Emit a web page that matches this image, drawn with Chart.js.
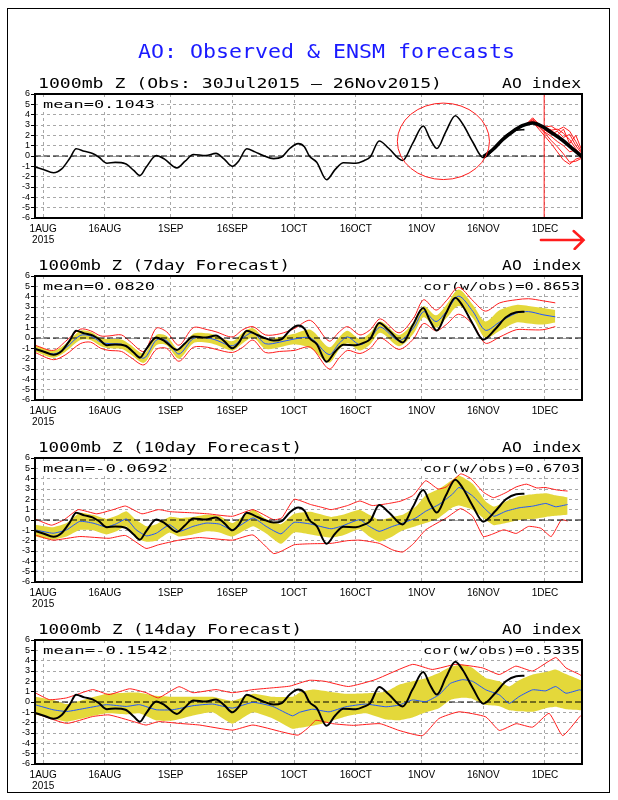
<!DOCTYPE html>
<html><head><meta charset="utf-8">
<script src="https://cdn.jsdelivr.net/npm/chart.js@4/dist/chart.umd.min.js"></script>
<style>
html,body{margin:0;padding:0;background:#fff;width:618px;height:800px;overflow:hidden;}
#frame{position:absolute;left:7px;top:8px;width:603px;height:785px;border:1px solid #000;box-sizing:border-box;}
canvas{position:absolute;left:0;}
</style></head><body>
<div id="frame"></div>
<canvas id="c1" style="top:0px" width="618" height="250"></canvas>
<canvas id="c2" style="top:250px" width="618" height="182"></canvas>
<canvas id="c3" style="top:432px" width="618" height="182"></canvas>
<canvas id="c4" style="top:614px" width="618" height="182"></canvas>
<script>
// ---------- tick labels ----------
const tickDays = [0, 15, 31, 46, 61, 76, 92, 107, 122];
const tickLabels = [['1AUG', '2015'], '16AUG', '1SEP', '16SEP', '1OCT', '16OCT', '1NOV', '16NOV', '1DEC'];
const yTicks = [-6, -5, -4, -3, -2, -1, 0, 1, 2, 3, 4, 5, 6];

// ---------- texts ----------
const pageTitle = 'AO: Observed & ENSM forecasts';
const panelTitles = ['1000mb Z (Obs: 30Jul2015 – 26Nov2015)', '1000mb Z (7day Forecast)', '1000mb Z (10day Forecast)', '1000mb Z (14day Forecast)'];
const meanTexts = ['mean=0.1043', 'mean=0.0820', 'mean=-0.0692', 'mean=-0.1542'];
const corTexts = [null, 'cor(w/obs)=0.8653', 'cor(w/obs)=0.6703', 'cor(w/obs)=0.5335'];

// ---------- observed AO (days since 1 Aug 2015) ----------
const obsDays = [-2,0,2.5,4.5,6.5,8,10,12,13.5,15.5,17.5,20,22,23.5,25,27.5,29.5,32.5,34.5,36.5,39.5,42,44,46,47.5,49.5,51.5,53.5,56,58,60,62,63.5,64.7,66.5,68.9,71,73,76,78,79.5,81.7,84,87.4,89.8,92.4,94,95.7,97.9,100.2,102,104.4,107,110,112.5,115,117];
const obsVals = [-1.05,-1.3,-1.62,-1.25,-0.2,0.7,0.45,0.25,-0.1,-0.7,-0.62,-0.75,-1.4,-1.9,-1.1,0.05,-0.3,-1.15,-0.5,0.15,0.05,0.25,-0.3,-1.0,-0.5,0.7,0.4,0.05,-0.25,-0.1,0.75,1.2,0.9,0.0,-0.6,-2.3,-1.3,-0.65,-0.7,-0.45,-0.1,1.45,0.75,-0.43,1.2,2.9,1.7,0.72,2.36,3.9,3.1,1.38,-0.16,0.9,2.0,2.5,2.55];

// ---------- panel 1: ensemble forecast (thick) and members ----------
const fcstDays = [107,109.2,111.6,114.1,116.5,119,121.4,123.8,126.2,128.6,131];
const fcstVals = [-0.1,0.58,1.55,2.35,2.93,3.2,2.84,2.2,1.55,0.74,-0.06];
const memberDays = [117.5,119,120.5,122,123.5,125,126.5,128,129.5,131];
const member1 = [3.05,3.3,3.0,2.7,2.3,1.9,1.5,0.9,0.3,-0.1];
const member2 = [3.1,3.5,3.0,2.6,2.5,2.6,2.2,1.6,0.7,0.0];
const member3 = [3.0,3.2,2.8,2.2,1.5,0.9,0.2,-0.6,-0.5,-0.2];
const member4 = [3.1,3.7,3.1,2.8,2.9,2.5,2.8,2.4,1.4,0.3];
const member5 = [3.0,3.3,2.6,1.9,1.2,0.4,-0.4,-0.8,-0.3,-0.1];
const member6 = [3.1,3.4,3.1,2.5,2.1,2.4,1.8,2.1,1.0,0.2];
const member7 = [3.0,3.6,2.9,2.3,1.9,1.4,1.0,0.4,0.6,0.0];
const member8 = [3.05,3.3,2.9,2.8,2.5,2.0,2.6,1.2,2.0,0.5];
const todayDay = 121.8;

// ---------- panel 2: 7-day forecast ----------
const p2Days = [-2,2.5,5.5,9,11.5,14,16,19,21,24.5,27.5,30,33,36.5,40,42,46,48.5,51,54,57.5,61,65,69.5,72,74,77,79.5,82,86.5,90,92.5,95.5,98,101,104.5,107.5,111,115,118,121.5,124.5];
const p2Mean = [-1.0,-1.55,-0.95,0.25,0.2,-0.4,-0.55,-0.6,-1.05,-1.95,-0.2,-0.25,-1.55,-0.05,0.0,-0.2,-0.75,0.0,0.5,-0.55,-0.4,-0.1,0.0,-1.6,-0.5,0.1,-0.65,-0.05,1.05,-0.25,0.95,2.55,1.6,2.55,4.05,2.55,0.75,1.55,2.4,2.55,2.25,2.05];
const p2YelHi = [-0.7,-1.2,-0.55,0.7,0.6,0.0,-0.1,-0.15,-0.6,-1.5,0.3,0.2,-1.1,0.4,0.45,0.25,-0.3,0.5,0.95,-0.05,0.1,0.4,0.8,-0.9,0.1,0.7,-0.1,0.5,1.6,0.3,1.5,3.1,2.2,3.2,4.7,3.2,1.6,2.7,3.2,3.1,2.9,2.7];
const p2YelLo = [-1.3,-1.9,-1.3,-0.2,-0.2,-0.8,-1.0,-1.05,-1.5,-2.4,-0.7,-0.7,-2.0,-0.5,-0.45,-0.65,-1.2,-0.5,0.05,-1.05,-0.9,-0.6,-1.0,-2.4,-1.1,-0.5,-1.2,-0.6,0.5,-0.8,0.4,2.0,1.0,1.9,3.1,1.9,0.0,0.7,1.5,1.4,1.3,1.5];
const p2RedHi = [-0.7,-1.2,-0.3,0.85,0.7,0.2,0.2,0.3,-0.3,-1.3,0.95,0.6,-0.7,1.0,0.8,0.6,0.1,0.8,1.1,0.3,0.4,0.9,1.7,-0.3,0.6,1.1,0.3,0.8,1.85,0.5,1.9,3.7,2.7,3.6,4.9,3.6,2.6,3.4,3.7,3.8,3.6,3.4];
const p2RedLo = [-1.4,-2.1,-1.6,-0.55,-0.4,-1.0,-1.2,-1.3,-1.8,-2.6,-1.1,-1.0,-2.25,-0.9,-0.9,-1.1,-1.4,-0.9,-0.2,-1.4,-1.3,-1.2,-0.9,-3.0,-1.9,-1.2,-1.5,-1.0,0.0,-1.1,-0.1,1.4,0.7,1.3,2.3,1.3,-0.5,0.1,0.8,0.8,0.8,1.1];

// ---------- panel 3: 10-day forecast ----------
const p3Days = [-2,2.4,5.7,8.9,12.1,15.4,17.8,20.2,22.6,25.1,27.5,30.7,33.1,36.4,39.6,42.8,46,51,54.2,57.8,61,65,70,72.8,76.9,79.3,81.7,84.9,87.4,90.6,93,96.2,99.5,101.1,104.4,107.6,109.6,112.5,115.7,119,122.2,124.6,127.5];
const p3Mean = [-0.95,-1.28,-0.95,-0.13,-0.3,-0.69,-0.36,0.1,-0.95,-1.54,-1.28,-0.46,-1.1,-0.62,-0.3,-0.39,-0.95,0.2,-0.62,-1.34,-0.23,-0.39,-0.85,-0.56,0.03,-0.62,-1.1,-0.62,-0.3,0.2,0.85,1.5,2.5,3.15,2.33,1.0,0.36,0.85,1.18,1.34,1.6,1.28,1.5];
const p3YelHi = [-0.45,-0.7,-0.3,0.7,0.5,0.1,0.4,0.85,0.0,-0.6,-0.4,0.3,0.2,0.3,0.5,0.4,-0.3,1.0,0.1,-0.4,0.6,0.8,0.3,0.5,1.0,0.5,0.0,0.3,0.5,1.3,2.4,3.0,3.9,4.3,3.5,1.8,1.3,1.8,2.3,2.5,2.6,2.4,2.2];
const p3YelLo = [-1.6,-1.9,-1.6,-0.95,-1.0,-1.4,-1.1,-0.6,-1.8,-2.1,-2.0,-1.2,-1.6,-1.4,-1.1,-1.2,-1.6,-0.6,-1.3,-2.3,-1.2,-1.4,-1.7,-1.5,-0.9,-1.6,-2.1,-1.6,-1.0,-0.6,-0.3,0.2,1.2,1.4,1.0,0.0,-0.5,-0.3,0.0,0.1,0.3,0.4,0.5];
const p3RedHiDays = [-2,2,5,8.5,13,17,20,24,28,31,36,40,46,51,56,58,61,65,68,70,74,77,80,84,87,90,93,96,98,101.5,104,107,109.5,112.5,115,117.5,120,122,125,127.5];
const p3RedHi = [0.1,-0.5,0.0,1.0,0.6,1.0,1.35,0.6,1.0,0.8,0.7,0.6,0.36,1.0,0.03,0.2,2.0,1.5,1.2,1.0,1.4,1.84,1.4,1.6,1.84,2.4,3.8,3.0,3.2,4.46,4.0,2.7,2.16,2.65,3.2,3.47,3.1,3.15,2.9,2.8];
const p3RedLoDays = [-2,2.4,8.9,16,20,25,28,33,38,46,51,56,58,61,65,70,74,77,81.7,85,87.4,90,93,98,101.5,104.4,107,109,112,115,118,121,123.5,126,127.5];
const p3RedLo = [-1.45,-1.95,-1.6,-1.77,-1.5,-2.75,-2.4,-1.95,-1.7,-1.95,-1.45,-3.25,-3.0,-2.4,-2.3,-2.26,-2.0,-1.95,-2.26,-2.9,-3.1,-2.3,-0.95,0.2,1.1,0.36,-1.6,-1.4,-0.95,-1.3,-0.62,-0.8,-1.6,0.03,-0.1];

// ---------- panel 4: 14-day forecast ----------
const p4Days = [-2,2.4,5.7,10.5,15.4,20.2,23.4,27.5,31.5,36.4,41.2,46,51,55.8,60.6,62.3,65.5,69.5,73.6,78.4,83.3,86.5,89.8,93,96.2,99,101.9,104.4,107.6,110.9,113.3,115.7,119,122.2,124.6,127.1,130.4,131];
const p4Mean = [-0.26,-0.75,-0.92,-0.59,-0.26,-0.43,-0.26,-0.75,-0.75,-0.36,-0.2,-0.59,-0.03,-0.43,-1.34,-1.0,-0.7,-0.95,-0.46,-0.2,-0.46,-0.3,0.2,0.03,0.69,1.8,2.16,2.0,1.18,0.69,-0.13,0.52,1.18,1.08,1.5,0.85,1.18,1.1];
const p4YelHi = [0.5,0.2,-0.2,0.3,0.8,0.9,0.9,0.6,0.5,0.5,0.5,0.1,0.8,0.5,0.5,0.9,1.2,1.0,0.8,0.85,1.0,1.67,2.0,2.3,2.8,3.4,3.6,3.3,2.33,2.0,1.5,2.1,2.65,2.9,3.15,2.7,2.16,2.1];
const p4YelLo = [-1.2,-1.6,-1.9,-1.5,-1.1,-1.2,-1.1,-1.8,-1.8,-1.3,-1.0,-2.1,-1.0,-1.6,-2.6,-2.5,-2.3,-1.9,-1.4,-1.1,-1.7,-1.77,-1.5,-1.0,-0.6,0.2,0.4,0.3,-0.3,-0.4,-0.8,-0.9,-0.95,-0.6,-0.46,-0.7,-0.79,-0.8];
const p4RedHiDays = [-2,1.5,5.7,12,16,21,25,28,33,36.4,42,46,51,56,60,64.7,68.5,74.2,80.7,89.8,94.6,100.3,106.8,110.9,114.9,119,124.6,127.1,130.4,131];
const p4RedHi = [0.9,0.23,0.4,1.2,0.72,1.28,0.9,0.4,1.48,0.9,1.2,0.9,1.2,1.38,1.54,2.1,2.0,1.5,2.16,3.64,3.15,3.64,3.3,2.66,3.47,3.0,4.3,3.3,2.66,2.5];
const p4RedLoDays = [-2,5.7,12,16,22,25,28,33,38,46,51,58,62,64.7,66.3,70.4,75.4,81.9,86.5,92.2,96.2,101.1,107.6,110.9,115,119,123,126.3,130.4,131];
const p4RedLo = [-1.08,-2.07,-1.41,-1.25,-1.9,-2.23,-1.9,-2.07,-2.23,-2.72,-2.23,-2.89,-3.2,-2.4,-1.77,-2.1,-2.26,-2.1,-2.75,-3.25,-1.6,-0.95,-1.44,-2.75,-2.1,-2.43,-1.1,-3.25,-1.44,-1.2];

// ---------- style ----------
const RED = '#ff1c1c', BLUE = '#1f55ff', YEL = '#e4d83a', GRID = '#a8a8a8';
const MONO = '"DejaVu Sans Mono", monospace';
const SANS = '"Liberation Sans", Arial, sans-serif';

function pts(days, vals) { return days.map((d, i) => ({x: d, y: vals[i]})); }

function drawText(ctx, text, x, base, size, w, color) {
  ctx.save();
  ctx.font = size + 'px ' + MONO;
  ctx.fillStyle = color || '#000';
  ctx.textAlign = 'left';
  ctx.textBaseline = 'alphabetic';
  const mw = ctx.measureText(text).width;
  ctx.translate(x, base);
  ctx.scale(w / mw, 1);
  ctx.fillText(text, 0, 0);
  ctx.restore();
}

const decorCfg = {};
const decor = {
  id: 'decor',
  beforeDatasetsDraw(chart) {
    const o = decorCfg[chart.canvas.id]; if (!o) return;
    const ctx = chart.ctx, a = chart.chartArea;
    o.texts.forEach(t => {
      let base = t.base;
      if (t.rel === 'above') base = a.top - 6;
      if (t.rel === 'inside') base = a.top + 14;
      if (t.bg) { ctx.save(); ctx.fillStyle = '#fff'; ctx.fillRect(t.x - 2, base - 10, t.w + 4, 13); ctx.restore(); }
      drawText(ctx, t.text, t.x, base, t.size, t.w, t.color);
    });
  },
  afterDatasetsDraw(chart) {
    const o = decorCfg[chart.canvas.id]; if (!o) return;
    const ctx = chart.ctx, a = chart.chartArea, xs = chart.scales.x, ys = chart.scales.y;
    if (o.ellipse) {
      const e = o.ellipse;
      const cx = xs.getPixelForValue(e.cx), cy = ys.getPixelForValue(e.cy);
      const rx = xs.getPixelForValue(e.cx + e.rx) - cx, ry = cy - ys.getPixelForValue(e.cy + e.ry);
      ctx.save(); ctx.strokeStyle = RED; ctx.lineWidth = 1;
      ctx.beginPath(); ctx.ellipse(cx, cy, rx, ry, 0, 0, Math.PI * 2); ctx.stroke(); ctx.restore();
    }
    ctx.save(); ctx.strokeStyle = '#000'; ctx.lineWidth = 2;
    ctx.strokeRect(a.left, a.top, a.right - a.left, a.bottom - a.top); ctx.restore();
  },
  afterDraw(chart) {
    const o = decorCfg[chart.canvas.id]; if (!o || !o.arrow) return;
    const ctx = chart.ctx, a = chart.chartArea, xs = chart.scales.x;
    const x1 = xs.getPixelForValue(o.arrow.from), x2 = xs.getPixelForValue(o.arrow.to), y = a.bottom + 22;
    ctx.save(); ctx.strokeStyle = RED; ctx.lineWidth = 2.5; ctx.lineCap = 'round';
    ctx.beginPath(); ctx.moveTo(x1, y); ctx.lineTo(x2, y);
    ctx.moveTo(x2 - 10, y - 9); ctx.lineTo(x2, y); ctx.lineTo(x2 - 9, y + 9); ctx.stroke(); ctx.restore();
  }
};

function line(data, color, width, extra) {
  return Object.assign({data, borderColor: color, borderWidth: width, pointRadius: 0, fill: false, tension: 0}, extra || {});
}
const zeroLine = () => line([{x: -2, y: 0}, {x: 131, y: 0}], '#000', 1, {borderDash: [6, 3]});

function makeChart(id, padTop, datasets) {
  return new Chart(document.getElementById(id), {
    type: 'line',
    data: {datasets},
    plugins: [decor],
    options: {
      responsive: false, animation: false, events: [],
      layout: {padding: {left: 0, right: 36, top: padTop, bottom: 0}},
      plugins: {legend: {display: false}, tooltip: {enabled: false}, title: {display: false}},
      scales: {
        x: {
          type: 'linear', min: -2, max: 131,
          afterBuildTicks: s => { s.ticks = tickDays.map(v => ({value: v})); },
          afterFit: s => { s.height = 32; },
          ticks: {autoSkip: false, maxRotation: 0, minRotation: 0, padding: 1, color: '#000',
                  font: {family: SANS, size: 10, lineHeight: 1.15},
                  callback: v => tickLabels[tickDays.indexOf(v)]},
          grid: {color: GRID, lineWidth: 1, drawTicks: true, tickLength: 4, tickColor: 'rgba(0,0,0,0)', tickBorderDash: []},
          border: {display: false, dash: [3, 3]}
        },
        y: {
          type: 'linear', min: -6, max: 6,
          afterBuildTicks: s => { s.ticks = yTicks.map(v => ({value: v})); },
          afterFit: s => { s.width = 35; },
          ticks: {autoSkip: false, padding: 1, color: '#000', font: {family: SANS, size: 9}, callback: v => String(v)},
          grid: {color: GRID, lineWidth: 1, drawTicks: true, tickLength: 4, tickColor: '#000', tickBorderDash: []},
          border: {display: false, dash: [3, 3]}
        }
      }
    }
  });
}

// ---------- panel 1 ----------
decorCfg.c1 = {
  texts: [
    {text: pageTitle, x: 138, base: 58, size: 19, w: 377, color: '#1a1aff'},
    {text: panelTitles[0], x: 38, rel: 'above', size: 14, w: 404},
    {text: 'AO index', x: 502, rel: 'above', size: 14, w: 79},
    {text: meanTexts[0], x: 43, rel: 'inside', size: 11, w: 112, bg: true}
  ],
  ellipse: {cx: 97.3, cy: 1.42, rx: 11.2, ry: 3.7},
  arrow: {from: 121, to: 131.4}
};
const members = [member1, member2, member3, member4, member5, member6, member7, member8];
makeChart('c1', 94, [
  line(pts(fcstDays, fcstVals), '#000', 3.6, {cubicInterpolationMode: 'monotone'}),
  line(pts(obsDays, obsVals), '#000', 1.6, {cubicInterpolationMode: 'monotone'}),
  line([{x: todayDay, y: -6}, {x: todayDay, y: 6}], RED, 1),
  ...members.map(m => line(pts(memberDays, m), RED, 1)),
  zeroLine()
]);

function bandPanel(id, padTop, k, meanD, mean, yHi, yLo, rHiD, rHi, rLoD, rLo, tens) {
  decorCfg[id] = {
    texts: [
      {text: panelTitles[k], x: 38, rel: 'above', size: 14, w: k === 1 ? 252 : 264},
      {text: 'AO index', x: 502, rel: 'above', size: 14, w: 79},
      {text: meanTexts[k], x: 43, rel: 'inside', size: 11, w: k === 1 ? 112 : 125, bg: true},
      {text: corTexts[k], x: 423, rel: 'inside', size: 11, w: 157, bg: true}
    ]
  };
  makeChart(id, padTop, [
    line(pts(obsDays, obsVals), '#000', 2, {cubicInterpolationMode: 'monotone'}),
    line(pts(meanD, mean), BLUE, 1, {tension: tens}),
    zeroLine(),
    line(pts(rHiD, rHi), RED, 1, {tension: tens}),
    line(pts(rLoD, rLo), RED, 1, {tension: tens}),
    line(pts(meanD, yHi), 'rgba(0,0,0,0)', 0, {fill: '+1', backgroundColor: YEL, tension: tens}),
    line(pts(meanD, yLo), 'rgba(0,0,0,0)', 0, {tension: tens})
  ]);
}
bandPanel('c2', 26, 1, p2Days, p2Mean, p2YelHi, p2YelLo, p2Days, p2RedHi, p2Days, p2RedLo, 0.3);
bandPanel('c3', 26, 2, p3Days, p3Mean, p3YelHi, p3YelLo, p3RedHiDays, p3RedHi, p3RedLoDays, p3RedLo, 0.15);
bandPanel('c4', 26, 3, p4Days, p4Mean, p4YelHi, p4YelLo, p4RedHiDays, p4RedHi, p4RedLoDays, p4RedLo, 0.15);
</script>
</body></html>
